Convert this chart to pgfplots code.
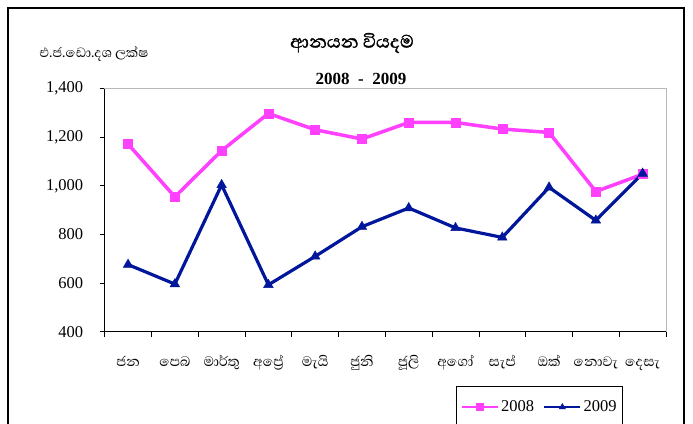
\documentclass[border=0pt]{standalone}
\usepackage{fontspec}
\usepackage{pgfplots}
\pgfplotsset{compat=1.18}
\setmainfont{Liberation Serif}
\newfontfamily\sinhfont[Script=Sinhala]{Abhaya Libre}
\newfontfamily\sinhbold[Script=Sinhala,FakeBold=1.3]{Abhaya Libre}
\definecolor{pk}{RGB}{255,64,255}
\definecolor{nb}{RGB}{0,22,155}
\begin{document}
\begin{tikzpicture}
\useasboundingbox (0,0) rectangle (693pt,423pt);
\clip (0,0) rectangle (693pt,423pt);
\fill[white] (0,0) rectangle (693pt,423pt);
\draw[line width=1.2pt] (8pt,415pt) rectangle (684pt,-30pt);
\node[font=\sinhfont\fontsize{17}{19}\selectfont, anchor=west] at (36pt,369pt) {එ.ජ.ඩො.දශ ලක්ෂ};
\node[font=\sinhbold\fontsize{23}{25}\selectfont] at (352pt,380pt) {ආනයන වියදම};
\node[font=\bfseries\fontsize{17}{18}\selectfont] at (361pt,344pt) {2008\hspace{0.5em}-\hspace{0.5em}2009};
\begin{axis}[
 at={(104.7pt,91.3pt)}, anchor=south west,
 width=561.3pt, height=243pt, scale only axis,
 xmin=0.5, xmax=12.5, ymin=400, ymax=1400,
 ytick={400,600,...,1400},
 xtick={0.5,1.5,...,12.5}, xticklabels={},
 extra x ticks={1,2,3,4,5,6,7,8,9,10,11,12},
 extra x tick labels={ජන,පෙබ,මාර්තු,අප්‍රේ,මැයි,ජුනි,ජූලි,අගෝ,සැප්,ඔක්,නොවැ,දෙසැ},
 extra x tick style={major tick length=0pt, xticklabel style={font=\sinhfont\fontsize{17.5}{20}\selectfont, anchor=base, yshift=-35pt}},
 tick align=outside, tick pos=left,
 major tick length=5pt,
 tick style={black, line width=0.8pt},
 axis line style={draw=gray!55, line width=1pt},
 clip=false,
 /pgf/number format/assume math mode=true,
 /pgf/number format/1000 sep={,},
 yticklabel style={font=\fontsize{16.5}{18}\selectfont, xshift=-13pt},
 legend columns=2,
 legend style={at={(0.626,-0.2247)}, anchor=north west, draw=black, line width=1pt,
   font=\fontsize{16.5}{18}\selectfont, inner xsep=4pt, inner ysep=12pt,
   /tikz/every even column/.append style={column sep=7pt}},
 legend image code/.code={\draw[mark repeat=2,mark phase=2,#1,line width=2.5pt,mark size=3.5pt] plot coordinates {(0pt,0pt) (18pt,0pt) (36pt,0pt)};},
]
\addplot[color=pk, line width=3.5pt, mark=square*, mark size=4.5pt, mark options={line width=0.5pt}] coordinates {
(1,1172) (2,955) (3,1145) (4,1298) (5,1231) (6,1193) (7,1261) (8,1261) (9,1234) (10,1220) (11,977) (12,1048)};
\addlegendentry{2008}
\addplot[color=nb, line width=3.2pt, mark=triangle*, mark size=5.5pt, mark options={line width=0.5pt}] coordinates {
(1,676) (2,596) (3,1004) (4,593) (5,710) (6,832) (7,909) (8,827) (9,788) (10,994) (11,858) (12,1051)};
\addlegendentry{2009}
\draw[black, line width=1pt] (rel axis cs:0,1) -- (rel axis cs:0,0) -- (rel axis cs:1,0);
\end{axis}
\end{tikzpicture}
\end{document}
